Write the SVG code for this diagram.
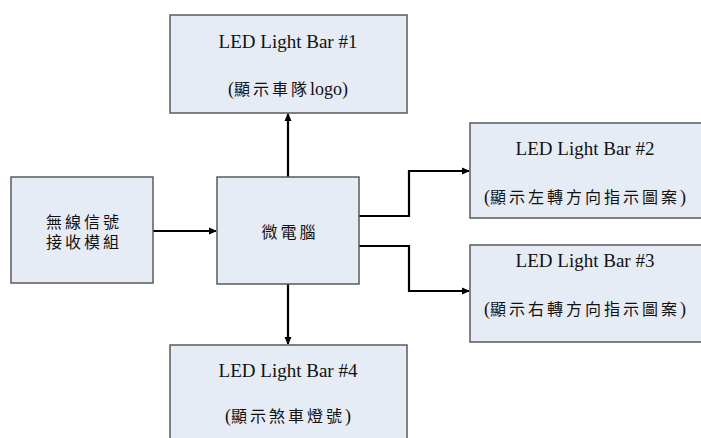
<svg xmlns="http://www.w3.org/2000/svg" width="701" height="438" viewBox="0 0 701 438">
<defs>
<style>
.box{fill:#e6ecf6;stroke:#5a5a5a;stroke-width:1.5}
.t{font-family:"Liberation Serif","Noto Sans CJK TC",serif;font-size:19px;fill:#111;text-anchor:middle}
.u{font-size:18px}
.s{font-size:16px;letter-spacing:3px}
.c{font-family:"Liberation Serif","Noto Sans CJK TC",serif;font-size:16px;fill:#111;text-anchor:middle;letter-spacing:3px}
.ln{fill:none;stroke:#000;stroke-width:2.2}
</style>
<marker id="ah" markerWidth="8" markerHeight="8" refX="7" refY="4" orient="auto" markerUnits="userSpaceOnUse">
<path d="M0,0.5 L8,4 L0,7.5 Z" fill="#000"/>
</marker>
</defs>
<rect width="701" height="438" fill="#fff"/>
<g id="connectors">
<path class="ln" d="M153,231 H216" marker-end="url(#ah)"/>
<path class="ln" d="M288,177 V114" marker-end="url(#ah)"/>
<path class="ln" d="M288,284 V344" marker-end="url(#ah)"/>
<path class="ln" d="M359,216 H409 V171 H469" marker-end="url(#ah)"/>
<path class="ln" d="M359,246 H409 V291 H469" marker-end="url(#ah)"/>
</g>
<g id="bar1">
<rect class="box" x="170" y="15" width="237" height="98"/>
<text class="t" x="288" y="48">LED Light Bar #1</text>
<text class="t u" x="288" y="95">(<tspan class="s" letter-spacing="2">顯示車隊</tspan>logo)</text>
</g>
<g id="receiver">
<rect class="box" x="11" y="177" width="142" height="106"/>
<text class="c" x="84" y="228">無線信號</text>
<text class="c" x="84" y="248">接收模組</text>
</g>
<g id="mcu">
<rect class="box" x="217" y="177" width="142" height="107"/>
<text class="c" x="290" y="238">微電腦</text>
</g>
<g id="bar2">
<rect class="box" x="470" y="123" width="234" height="95"/>
<text class="t" x="585" y="155">LED Light Bar #2</text>
<text class="t u" x="585" y="203">(<tspan class="s">顯示左轉方向指示圖案</tspan>)</text>
</g>
<g id="bar3">
<rect class="box" x="470" y="245" width="234" height="97"/>
<text class="t" x="585" y="267">LED Light Bar #3</text>
<text class="t u" x="585" y="315">(<tspan class="s">顯示右轉方向指示圖案</tspan>)</text>
</g>
<g id="bar4">
<rect class="box" x="170" y="345" width="237" height="100"/>
<text class="t" x="288" y="377">LED Light Bar #4</text>
<text class="t u" x="288" y="422">(<tspan class="s">顯示煞車燈號</tspan>)</text>
</g>
</svg>
